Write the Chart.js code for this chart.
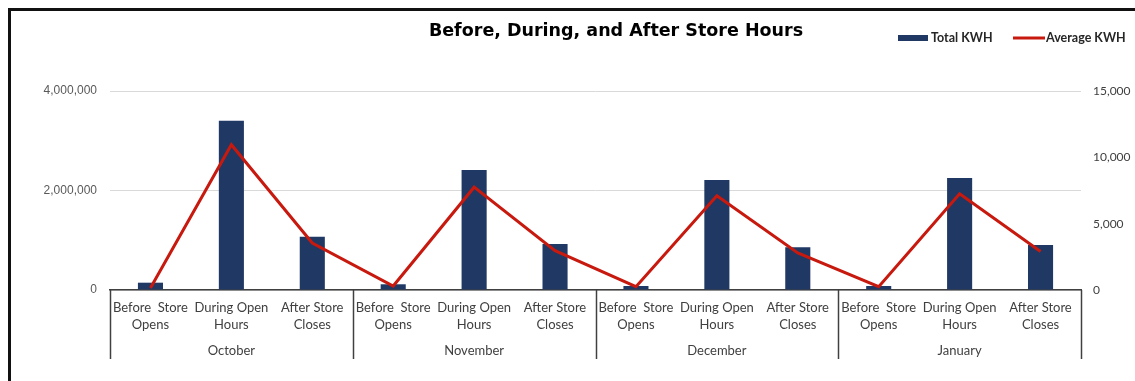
<!DOCTYPE html>
<html>
<head>
<meta charset="utf-8">
<script src="https://cdn.jsdelivr.net/npm/chart.js@4.4.1/dist/chart.umd.min.js"></script>
<style>
  html, body { margin: 0; padding: 0; background: #fff; }
  #wrap { width: 1135px; height: 381px; }
</style>
</head>
<body>
<div id="wrap"><canvas id="kwh" width="1135" height="381"></canvas></div>
<script>
const months = ['October', 'November', 'December', 'January'];
const periods = [['Before  Store', 'Opens'], ['During Open', 'Hours'], ['After Store', 'Closes']];
const totalKwh = [147000, 3400000, 1070000, 115000, 2410000, 925000, 80000, 2210000, 860000, 80000, 2250000, 905000];
const avgKwh = [150, 10950, 3540, 300, 7750, 2960, 250, 7100, 2800, 250, 7250, 2900];
const leftTicks = [0, 2000000, 4000000];
const rightTicks = [0, 5000, 10000, 15000];

const labels = [];
months.forEach(() => periods.forEach(p => labels.push(p)));

const textDark = '#404040';

// frame, title, legend, month groups
const extras = {
  id: 'extras',
  beforeDraw(chart) {
    const ctx = chart.ctx;
    ctx.save();
    ctx.fillStyle = '#111';
    ctx.fillRect(8, 8, 3, 373);
    ctx.fillRect(8, 8, 1127, 3);
    ctx.restore();
  },
  afterDraw(chart) {
    const ctx = chart.ctx;
    const x = chart.scales.x;
    const area = chart.chartArea;
    ctx.save();

    // title
    ctx.fillStyle = '#000';
    ctx.font = 'bold 17.5px "DejaVu Sans"';
    ctx.textAlign = 'center';
    ctx.textBaseline = 'middle';
    ctx.fillText('Before, During, and After Store Hours', 616, 31);

    // legend
    ctx.fillStyle = '#1f3864';
    ctx.fillRect(898, 35, 30, 6);
    ctx.strokeStyle = '#c8190f';
    ctx.lineWidth = 3;
    ctx.beginPath();
    ctx.moveTo(1013, 38);
    ctx.lineTo(1045, 38);
    ctx.stroke();
    ctx.fillStyle = '#262626';
    ctx.font = 'bold 12.5px Lato';
    ctx.textAlign = 'left';
    ctx.fillText('Total KWH', 931, 38);
    ctx.fillText('Average KWH', 1046, 38);

    // month group separators and labels
    const n = periods.length;
    const edges = [area.left];
    for (let g = 1; g < months.length; g++) {
      edges.push((x.getPixelForValue(g * n - 1) + x.getPixelForValue(g * n)) / 2);
    }
    edges.push(area.right);
    ctx.strokeStyle = textDark;
    ctx.lineWidth = 1.5;
    edges.forEach(e => {
      ctx.beginPath();
      ctx.moveTo(Math.round(e) + 0.5, area.bottom);
      ctx.lineTo(Math.round(e) + 0.5, 359);
      ctx.stroke();
    });
    ctx.fillStyle = textDark;
    ctx.font = '13px Lato';
    ctx.textAlign = 'center';
    months.forEach((m, i) => {
      ctx.fillText(m, (edges[i] + edges[i + 1]) / 2, 351);
    });
    ctx.restore();
  }
};

new Chart(document.getElementById('kwh'), {
  type: 'bar',
  data: {
    labels: labels,
    datasets: [
      {
        type: 'line',
        label: 'Average KWH',
        data: avgKwh,
        yAxisID: 'y1',
        borderColor: '#c8190f',
        backgroundColor: '#c8190f',
        borderWidth: 3,
        pointRadius: 0,
        tension: 0,
        order: 0
      },
      {
        type: 'bar',
        label: 'Total KWH',
        data: totalKwh,
        yAxisID: 'y',
        backgroundColor: '#1f3864',
        categoryPercentage: 1,
        barPercentage: 0.31,
        order: 1
      }
    ]
  },
  options: {
    responsive: false,
    animation: false,
    devicePixelRatio: 1,
    layout: { padding: { left: 10, right: 0, top: 91, bottom: 0 } },
    plugins: {
      legend: { display: false },
      title: { display: false },
      tooltip: { enabled: false }
    },
    scales: {
      x: {
        grid: { display: false, drawTicks: false },
        border: { display: true, color: textDark, width: 1.5 },
        ticks: {
          color: textDark,
          font: { family: 'Lato', size: 13, lineHeight: 1.25 },
          padding: 10,
          maxRotation: 0,
          autoSkip: false
        },
        afterFit(scale) { scale.height = 91; }
      },
      y: {
        position: 'left',
        min: 0,
        max: 4000000,
        afterBuildTicks(scale) { scale.ticks = leftTicks.map(v => ({ value: v })); },
        grid: { color: '#d9d9d9', lineWidth: 1, drawTicks: false },
        border: { display: false },
        ticks: {
          color: '#595959',
          font: { family: 'Liberation Sans', size: 12 },
          padding: 13,
          callback: v => v.toLocaleString('en-US')
        },
        afterFit(scale) { scale.width = 100; }
      },
      y1: {
        position: 'right',
        min: 0,
        max: 15000,
        afterBuildTicks(scale) { scale.ticks = rightTicks.map(v => ({ value: v })); },
        grid: { display: false, drawTicks: false },
        border: { display: false },
        ticks: {
          color: textDark,
          font: { family: 'Lato', size: 12 },
          padding: 12,
          callback: v => v.toLocaleString('en-US')
        },
        afterFit(scale) { scale.width = 54; }
      }
    }
  },
  plugins: [extras]
});
</script>
</body>
</html>
